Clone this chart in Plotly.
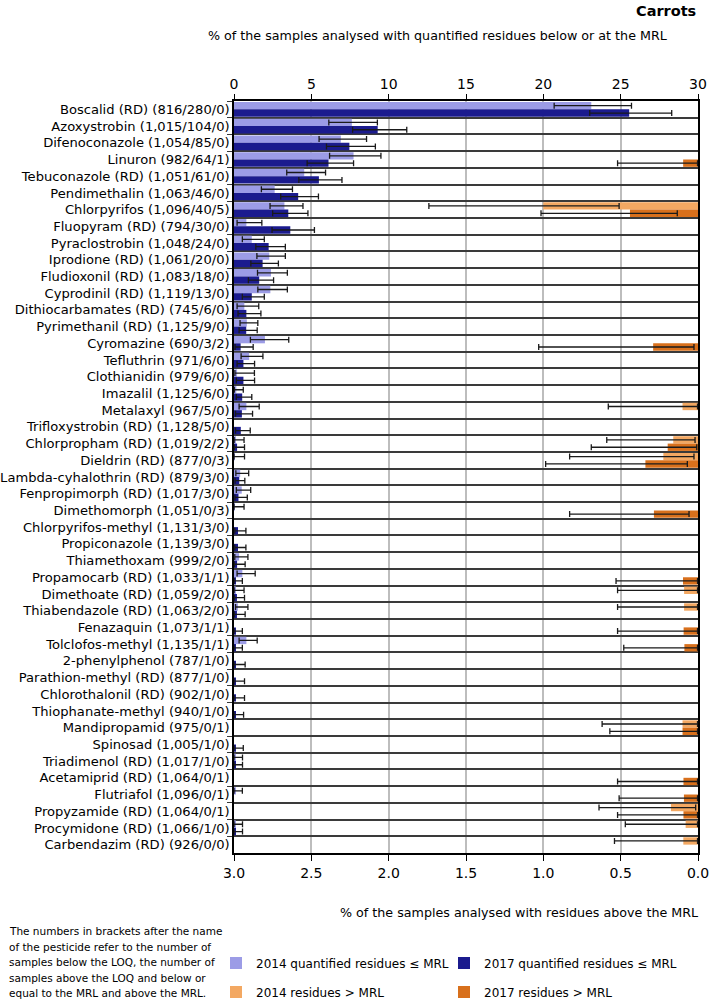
import plotly.graph_objects as go

pesticides = [
    "Boscalid (RD) (816/280/0)", "Azoxystrobin (1,015/104/0)", "Difenoconazole (1,054/85/0)",
    "Linuron (982/64/1)", "Tebuconazole (RD) (1,051/61/0)", "Pendimethalin (1,063/46/0)",
    "Chlorpyrifos (1,096/40/5)", "Fluopyram (RD) (794/30/0)", "Pyraclostrobin (1,048/24/0)",
    "Iprodione (RD) (1,061/20/0)", "Fludioxonil (RD) (1,083/18/0)", "Cyprodinil (RD) (1,119/13/0)",
    "Dithiocarbamates (RD) (745/6/0)", "Pyrimethanil (RD) (1,125/9/0)", "Cyromazine (690/3/2)",
    "Tefluthrin (971/6/0)", "Clothianidin (979/6/0)", "Imazalil (1,125/6/0)",
    "Metalaxyl (967/5/0)", "Trifloxystrobin (RD) (1,128/5/0)", "Chlorpropham (RD) (1,019/2/2)",
    "Dieldrin (RD) (877/0/3)", "Lambda-cyhalothrin (RD) (879/3/0)", "Fenpropimorph (RD) (1,017/3/0)",
    "Dimethomorph (1,051/0/3)", "Chlorpyrifos-methyl (1,131/3/0)", "Propiconazole (1,139/3/0)",
    "Thiamethoxam (999/2/0)", "Propamocarb (RD) (1,033/1/1)", "Dimethoate (RD) (1,059/2/0)",
    "Thiabendazole (RD) (1,063/2/0)", "Fenazaquin (1,073/1/1)", "Tolclofos-methyl (1,135/1/1)",
    "2-phenylphenol (787/1/0)", "Parathion-methyl (RD) (877/1/0)", "Chlorothalonil (RD) (902/1/0)",
    "Thiophanate-methyl (940/1/0)", "Mandipropamid (975/0/1)", "Spinosad (1,005/1/0)",
    "Triadimenol (RD) (1,017/1/0)", "Acetamiprid (RD) (1,064/0/1)", "Flutriafol (1,096/0/1)",
    "Propyzamide (RD) (1,064/0/1)", "Procymidone (RD) (1,066/1/0)", "Carbendazim (RD) (926/0/0)",
]

N = None
# 2014 quantified residues <= MRL (%), with lower / upper confidence limits
q14 = [23.1, 7.62, 6.91, 7.73, 4.54, 2.63, 3.26, 0.8, 1.15, 2.28, 2.39, 2.35, 0.67, 0.83, 2.0,
       0.98, 0.2, 0.15, 0.8, N, 0.1, 0.04, 0.4, 0.5, 0.04, N, N, 0.33, 0.54, 0.1,
       0.25, N, 0.8, N, N, N, N, N, N, 0.08, N, 0.08, N, 0.08, N]
q14_lo = [20.7, 6.13, 5.5, 6.18, 3.41, 1.77, 2.33, 0.2, 0.54, 1.48, 1.52, 1.54, 0.2, 0.39, 1.06,
          0.46, 0.06, 0.02, 0.33, N, 0.01, 0.0, 0.12, 0.15, 0.0, N, N, 0.05, 0.2, 0.01,
          0.1, N, 0.33, N, N, N, N, N, N, 0.002, N, 0.002, N, 0.002, N]
q14_hi = [25.7, 9.27, 8.57, 9.5, 5.92, 3.78, 4.46, 1.8, 1.96, 3.32, 3.45, 3.45, 1.6, 1.54, 3.54,
          1.87, 1.32, 0.6, 1.63, N, 0.65, 0.68, 0.95, 1.08, 0.65, N, N, 0.9, 1.37, 0.65,
          0.9, N, 1.5, N, N, N, N, N, N, 0.55, N, 0.54, N, 0.55, N]

# 2017 quantified residues <= MRL (%)
q17 = [25.55, 9.29, 7.46, 6.11, 5.49, 4.15, 3.51, 3.64, 2.24, 1.85, 1.63, 1.15, 0.8, 0.79, 0.43,
       0.61, 0.61, 0.53, 0.51, 0.44, 0.2, N, 0.34, 0.29, N, 0.26, 0.26, 0.2, 0.097, 0.19,
       0.19, 0.093, 0.088, 0.127, 0.114, 0.11, 0.106, N, 0.1, 0.098, N, N, N, 0.094, N]
q17_lo = [23.0, 7.67, 5.98, 4.73, 4.19, 3.02, 2.5, 2.46, 1.41, 1.09, 0.93, 0.54, 0.26, 0.33, 0.07,
          0.2, 0.15, 0.15, 0.1, 0.1, 0.02, N, 0.07, 0.06, N, 0.05, 0.05, 0.02, 0.01, 0.02,
          0.02, 0.002, 0.002, 0.003, 0.003, 0.003, 0.003, N, 0.003, 0.003, N, N, N, 0.003, N]
q17_hi = [28.3, 11.17, 9.14, 7.73, 6.98, 5.46, 4.78, 5.2, 3.32, 2.87, 2.56, 1.96, 1.74, 1.5, 1.24,
          1.33, 1.33, 1.15, 1.2, 1.05, 0.68, N, 0.7, 0.86, N, 0.77, 0.77, 0.72, 0.54, 0.68,
          0.72, 0.54, 0.54, 0.72, 0.68, 0.68, 0.62, N, 0.6, 0.55, N, N, N, 0.55, N]

# 2014 residues > MRL (%)
m14 = [N, N, N, N, N, N, 1.0, N, N, N, N, N, N, N, N,
       N, N, N, 0.1, N, 0.16, 0.224, N, N, N, N, N, N, N, 0.09,
       0.09, N, N, N, N, N, N, 0.1, N, N, N, N, 0.175, 0.08, 0.095]
m14_lo = [N, N, N, N, N, N, 0.51, N, N, N, N, N, N, N, N,
          N, N, N, 0.003, N, 0.019, 0.026, N, N, N, N, N, N, N, 0.003,
          0.003, N, N, N, N, N, N, 0.003, N, N, N, N, 0.015, 0.003, 0.003]
m14_hi = [N, N, N, N, N, N, 1.74, N, N, N, N, N, N, N, N,
          N, N, N, 0.58, N, 0.59, 0.83, N, N, N, N, N, N, N, 0.52,
          0.52, N, N, N, N, N, N, 0.62, N, N, N, N, 0.64, 0.47, 0.54]

# 2017 residues > MRL (%)
m17 = [N, N, N, 0.096, N, N, 0.44, N, N, N, N, N, N, N, 0.29,
       N, N, N, N, N, 0.196, 0.34, N, N, 0.285, N, N, N, 0.097, N,
       N, 0.093, 0.088, N, N, N, N, 0.1, N, N, 0.094, 0.091, 0.094, N, N]
m17_lo = [N, N, N, 0.003, N, N, 0.134, N, N, N, N, N, N, N, 0.026,
          N, N, N, N, N, 0.008, 0.069, N, N, 0.058, N, N, N, 0.003, N,
          N, 0.003, 0.003, N, N, N, N, 0.003, N, N, 0.003, 0.003, 0.003, N, N]
m17_hi = [N, N, N, 0.52, N, N, 1.015, N, N, N, N, N, N, N, 1.03,
          N, N, N, N, N, 0.69, 0.985, N, N, 0.83, N, N, N, 0.53, N,
          N, 0.52, 0.48, N, N, N, N, 0.57, N, N, 0.52, 0.51, 0.52, N, N]

series_names = ["2014 quantified residues ≤ MRL", "2017 quantified residues ≤ MRL",
                "2014 residues > MRL", "2017 residues > MRL"]
colors = ["#9C9CE6", "#1B1B8E", "#F3A862", "#D8701C"]

FONT = "DejaVu Sans"


def err(vals, lo, hi):
    plus = [None if v is None else h - v for v, h in zip(vals, hi)]
    minus = [None if v is None else v - l for v, l in zip(vals, lo)]
    return dict(type="data", symmetric=False, array=plus, arrayminus=minus,
                color="#1a1a1a", thickness=1.3, width=3)


fig = go.Figure()
specs = [
    (q14, q14_lo, q14_hi, "x", "legend"),
    (q17, q17_lo, q17_hi, "x", "legend2"),
    (m14, m14_lo, m14_hi, "x2", "legend3"),
    (m17, m17_lo, m17_hi, "x2", "legend4"),
]
for (vals, lo, hi, xa, lg), name, col in zip(specs, series_names, colors):
    fig.add_trace(go.Bar(
        y=pesticides, x=vals, orientation="h", name=name,
        marker=dict(color=col, line=dict(width=0)),
        error_x=err(vals, lo, hi), xaxis=xa, yaxis="y", legend=lg,
    ))

L, R, T, B = 234, 11, 101, 147
W, H = 709, 1000
pw, ph = W - L - R, H - T - B


def px(x):
    return (x - L) / pw


def py(y):
    return (H - B - y) / ph


def leg(xpix, ypix):
    return dict(orientation="h", x=px(xpix), xanchor="left", y=py(ypix), yanchor="middle",
                font=dict(size=12), bgcolor="rgba(0,0,0,0)", itemclick=False,
                itemdoubleclick=False)


fig.update_layout(
    width=W, height=H,
    margin=dict(l=L, r=R, t=T, b=B, autoexpand=False),
    plot_bgcolor="white", paper_bgcolor="white",
    font=dict(family=FONT, size=13, color="black"),
    barmode="group", bargap=0.12, bargroupgap=0.0,
    xaxis=dict(side="top", range=[0, 30], tickvals=[0, 5, 10, 15, 20, 25, 30],
               showgrid=True, gridcolor="#BDBDBD", gridwidth=2, zeroline=False,
               showline=True, linecolor="black", linewidth=1.5,
               ticks="outside", ticklen=5, tickcolor="black",
               tickfont=dict(size=14), ticklabeloverflow="allow"),
    xaxis2=dict(overlaying="x", anchor="y", side="bottom", range=[3, 0],
                tickvals=[3.0, 2.5, 2.0, 1.5, 1.0, 0.5, 0.0], tickformat=".1f",
                showgrid=False, zeroline=False,
                showline=True, linecolor="black", linewidth=1.5,
                ticks="outside", ticklen=6, tickcolor="black",
                tickfont=dict(size=14), ticklabeloverflow="allow"),
    yaxis=dict(type="category", autorange="reversed", tickson="boundaries",
               showgrid=True, gridcolor="#3a3a3a", gridwidth=1.5,
               showline=True, linecolor="black", linewidth=1.5, mirror=True,
               ticks="outside", ticklen=5, tickcolor="#3a3a3a",
               tickfont=dict(size=13.1)),
    legend=leg(216, 963),
    legend2=leg(444, 963),
    legend3=leg(216, 992),
    legend4=leg(444, 992),
    showlegend=True,
)

annotations = [
    dict(text="<b>Carrots</b>", x=px(698), y=py(11), xanchor="right", yanchor="middle",
         font=dict(size=14.5)),
    dict(text="% of the samples analysed with quantified residues below or at the MRL",
         x=px(437), y=py(36), xanchor="center", yanchor="middle", font=dict(size=12.7)),
    dict(text="% of the samples analysed with residues above the MRL",
         x=px(519), y=py(912), xanchor="center", yanchor="middle", font=dict(size=12.7)),
]
foot = ["The numbers in brackets after the name",
        "of the pesticide refer to the number of",
        "samples below the LOQ, the number of",
        "samples above the LOQ and below or",
        "equal to the MRL and above the MRL."]
for i, line in enumerate(foot):
    annotations.append(dict(text=line, x=px(7), y=py(931 + i * 15.6), xanchor="left",
                            yanchor="middle", align="left", font=dict(size=10.5)))
for a in annotations:
    a.update(xref="paper", yref="paper", showarrow=False)
fig.update_layout(annotations=annotations)

fig.write_html(
    "out.html",
    config={"displayModeBar": False},
    post_script="document.body.style.margin='0';document.body.style.padding='0';",
)
